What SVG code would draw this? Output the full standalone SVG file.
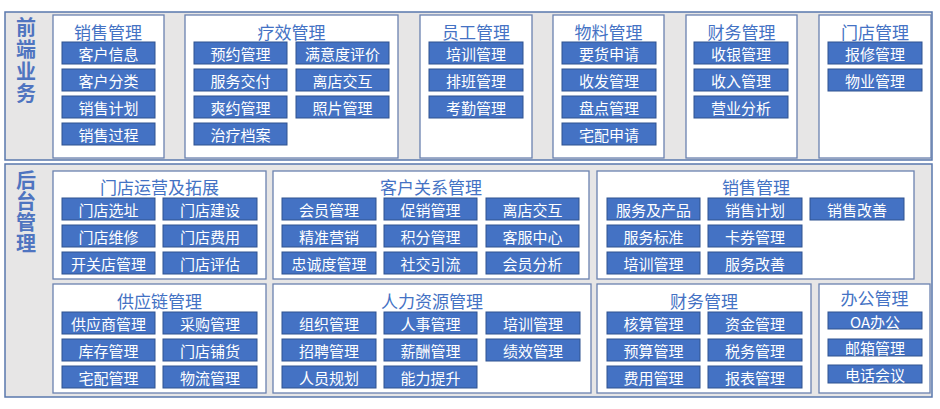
<svg xmlns="http://www.w3.org/2000/svg" width="940" height="409" viewBox="0 0 940 409">
<style>
.panel{fill:#e7e6e6;stroke:#5a78ad;stroke-width:1.5}
.box{fill:#ffffff;stroke:#6a82b0;stroke-width:1.3}
.title{font-family:"Noto Sans CJK SC","Microsoft YaHei",sans-serif;font-size:17px;fill:#4472c4;text-anchor:middle;dominant-baseline:central}
.side{font-family:"Noto Sans CJK SC","Microsoft YaHei",sans-serif;font-size:20px;font-weight:bold;fill:#4f74c0;writing-mode:vertical-rl;text-orientation:upright}
.btn{fill:#4472c4;stroke:#2f528f;stroke-width:1}
.bt{font-family:"Noto Sans CJK SC","Microsoft YaHei",sans-serif;font-size:15px;fill:#ffffff;text-anchor:middle;dominant-baseline:central}
</style>
<rect width="940" height="409" fill="#ffffff"/>
<g id="front">
<rect class="panel" x="5" y="12" width="927" height="148"/>
<text class="side" x="26" y="17" letter-spacing="2">前端业务</text>
</g>
<g id="back">
<rect class="panel" x="5" y="164" width="927" height="233"/>
<text class="side" x="26" y="170" letter-spacing="1">后台管理</text>
</g>
<g id="f-sales">
<rect class="box" x="53" y="15" width="111" height="143"/>
<text class="title" x="108" y="31">销售管理</text>
<rect class="btn" x="62" y="42" width="93" height="22"/><text class="bt" x="108.5" y="53">客户信息</text>
<rect class="btn" x="62" y="69" width="93" height="22"/><text class="bt" x="108.5" y="80">客户分类</text>
<rect class="btn" x="62" y="96" width="93" height="22"/><text class="bt" x="108.5" y="107">销售计划</text>
<rect class="btn" x="62" y="123" width="93" height="22"/><text class="bt" x="108.5" y="134">销售过程</text>
</g>
<g id="f-treat">
<rect class="box" x="185" y="15" width="213" height="143"/>
<text class="title" x="291.5" y="31">疗效管理</text>
<rect class="btn" x="194" y="42" width="93" height="22"/><text class="bt" x="240.5" y="53">预约管理</text>
<rect class="btn" x="296" y="42" width="93" height="22"/><text class="bt" x="342.5" y="53">满意度评价</text>
<rect class="btn" x="194" y="69" width="93" height="22"/><text class="bt" x="240.5" y="80">服务交付</text>
<rect class="btn" x="296" y="69" width="93" height="22"/><text class="bt" x="342.5" y="80">离店交互</text>
<rect class="btn" x="194" y="96" width="93" height="22"/><text class="bt" x="240.5" y="107">爽约管理</text>
<rect class="btn" x="296" y="96" width="93" height="22"/><text class="bt" x="342.5" y="107">照片管理</text>
<rect class="btn" x="194" y="123" width="93" height="22"/><text class="bt" x="240.5" y="134">治疗档案</text>
</g>
<g id="f-staff">
<rect class="box" x="420" y="15" width="112" height="143"/>
<text class="title" x="476" y="31">员工管理</text>
<rect class="btn" x="429" y="42" width="94" height="22"/><text class="bt" x="476" y="53">培训管理</text>
<rect class="btn" x="429" y="69" width="94" height="22"/><text class="bt" x="476" y="80">排班管理</text>
<rect class="btn" x="429" y="96" width="94" height="22"/><text class="bt" x="476" y="107">考勤管理</text>
</g>
<g id="f-material">
<rect class="box" x="553" y="15" width="111" height="143"/>
<text class="title" x="608.5" y="31">物料管理</text>
<rect class="btn" x="562" y="42" width="94" height="22"/><text class="bt" x="609" y="53">要货申请</text>
<rect class="btn" x="562" y="69" width="94" height="22"/><text class="bt" x="609" y="80">收发管理</text>
<rect class="btn" x="562" y="96" width="94" height="22"/><text class="bt" x="609" y="107">盘点管理</text>
<rect class="btn" x="562" y="123" width="94" height="22"/><text class="bt" x="609" y="134">宅配申请</text>
</g>
<g id="f-finance">
<rect class="box" x="686" y="15" width="111" height="143"/>
<text class="title" x="741.5" y="31">财务管理</text>
<rect class="btn" x="694" y="42" width="94" height="22"/><text class="bt" x="741" y="53">收银管理</text>
<rect class="btn" x="694" y="69" width="94" height="22"/><text class="bt" x="741" y="80">收入管理</text>
<rect class="btn" x="694" y="96" width="94" height="22"/><text class="bt" x="741" y="107">营业分析</text>
</g>
<g id="f-store">
<rect class="box" x="819" y="15" width="112" height="143"/>
<text class="title" x="875" y="31">门店管理</text>
<rect class="btn" x="828" y="42" width="94" height="22"/><text class="bt" x="875" y="53">报修管理</text>
<rect class="btn" x="828" y="69" width="94" height="22"/><text class="bt" x="875" y="80">物业管理</text>
</g>
<g id="b-ops">
<rect class="box" x="53" y="171" width="213" height="108"/>
<text class="title" x="159.5" y="186">门店运营及拓展</text>
<rect class="btn" x="62" y="198" width="93" height="22"/><text class="bt" x="108.5" y="209">门店选址</text>
<rect class="btn" x="163" y="198" width="94" height="22"/><text class="bt" x="210" y="209">门店建设</text>
<rect class="btn" x="62" y="225" width="93" height="22"/><text class="bt" x="108.5" y="236">门店维修</text>
<rect class="btn" x="163" y="225" width="94" height="22"/><text class="bt" x="210" y="236">门店费用</text>
<rect class="btn" x="62" y="252" width="93" height="22"/><text class="bt" x="108.5" y="263">开关店管理</text>
<rect class="btn" x="163" y="252" width="94" height="22"/><text class="bt" x="210" y="263">门店评估</text>
</g>
<g id="b-crm">
<rect class="box" x="273" y="171" width="316" height="108"/>
<text class="title" x="431" y="186">客户关系管理</text>
<rect class="btn" x="282" y="198" width="94" height="22"/><text class="bt" x="329" y="209">会员管理</text>
<rect class="btn" x="384" y="198" width="93" height="22"/><text class="bt" x="430.5" y="209">促销管理</text>
<rect class="btn" x="486" y="198" width="93" height="22"/><text class="bt" x="532.5" y="209">离店交互</text>
<rect class="btn" x="282" y="225" width="94" height="22"/><text class="bt" x="329" y="236">精准营销</text>
<rect class="btn" x="384" y="225" width="93" height="22"/><text class="bt" x="430.5" y="236">积分管理</text>
<rect class="btn" x="486" y="225" width="93" height="22"/><text class="bt" x="532.5" y="236">客服中心</text>
<rect class="btn" x="282" y="252" width="94" height="22"/><text class="bt" x="329" y="263">忠诚度管理</text>
<rect class="btn" x="384" y="252" width="93" height="22"/><text class="bt" x="430.5" y="263">社交引流</text>
<rect class="btn" x="486" y="252" width="93" height="22"/><text class="bt" x="532.5" y="263">会员分析</text>
</g>
<g id="b-sales">
<rect class="box" x="597" y="171" width="317" height="108"/>
<text class="title" x="756" y="186">销售管理</text>
<rect class="btn" x="607" y="198" width="93" height="22"/><text class="bt" x="653.5" y="209">服务及产品</text>
<rect class="btn" x="708" y="198" width="94" height="22"/><text class="bt" x="755" y="209">销售计划</text>
<rect class="btn" x="810" y="198" width="94" height="22"/><text class="bt" x="857" y="209">销售改善</text>
<rect class="btn" x="607" y="225" width="93" height="22"/><text class="bt" x="653.5" y="236">服务标准</text>
<rect class="btn" x="708" y="225" width="94" height="22"/><text class="bt" x="755" y="236">卡券管理</text>
<rect class="btn" x="607" y="252" width="93" height="22"/><text class="bt" x="653.5" y="263">培训管理</text>
<rect class="btn" x="708" y="252" width="94" height="22"/><text class="bt" x="755" y="263">服务改善</text>
</g>
<g id="b-supply">
<rect class="box" x="53" y="284" width="213" height="109"/>
<text class="title" x="159.5" y="300">供应链管理</text>
<rect class="btn" x="62" y="312" width="93" height="22"/><text class="bt" x="108.5" y="323">供应商管理</text>
<rect class="btn" x="163" y="312" width="94" height="22"/><text class="bt" x="210" y="323">采购管理</text>
<rect class="btn" x="62" y="339" width="93" height="22"/><text class="bt" x="108.5" y="350">库存管理</text>
<rect class="btn" x="163" y="339" width="94" height="22"/><text class="bt" x="210" y="350">门店铺货</text>
<rect class="btn" x="62" y="366" width="93" height="22"/><text class="bt" x="108.5" y="377">宅配管理</text>
<rect class="btn" x="163" y="366" width="94" height="22"/><text class="bt" x="210" y="377">物流管理</text>
</g>
<g id="b-hr">
<rect class="box" x="273" y="284" width="318" height="109"/>
<text class="title" x="432" y="300">人力资源管理</text>
<rect class="btn" x="282" y="312" width="94" height="22"/><text class="bt" x="329" y="323">组织管理</text>
<rect class="btn" x="384" y="312" width="93" height="22"/><text class="bt" x="430.5" y="323">人事管理</text>
<rect class="btn" x="486" y="312" width="94" height="22"/><text class="bt" x="533" y="323">培训管理</text>
<rect class="btn" x="282" y="339" width="94" height="22"/><text class="bt" x="329" y="350">招聘管理</text>
<rect class="btn" x="384" y="339" width="93" height="22"/><text class="bt" x="430.5" y="350">薪酬管理</text>
<rect class="btn" x="486" y="339" width="94" height="22"/><text class="bt" x="533" y="350">绩效管理</text>
<rect class="btn" x="282" y="366" width="94" height="22"/><text class="bt" x="329" y="377">人员规划</text>
<rect class="btn" x="384" y="366" width="93" height="22"/><text class="bt" x="430.5" y="377">能力提升</text>
</g>
<g id="b-finance">
<rect class="box" x="597" y="284" width="214" height="109"/>
<text class="title" x="704" y="300">财务管理</text>
<rect class="btn" x="607" y="312" width="93" height="22"/><text class="bt" x="653.5" y="323">核算管理</text>
<rect class="btn" x="708" y="312" width="94" height="22"/><text class="bt" x="755" y="323">资金管理</text>
<rect class="btn" x="607" y="339" width="93" height="22"/><text class="bt" x="653.5" y="350">预算管理</text>
<rect class="btn" x="708" y="339" width="94" height="22"/><text class="bt" x="755" y="350">税务管理</text>
<rect class="btn" x="607" y="366" width="93" height="22"/><text class="bt" x="653.5" y="377">费用管理</text>
<rect class="btn" x="708" y="366" width="94" height="22"/><text class="bt" x="755" y="377">报表管理</text>
</g>
<g id="b-office">
<rect class="box" x="819" y="284" width="111" height="109"/>
<text class="title" x="874.5" y="297.5">办公管理</text>
<rect class="btn" x="828" y="312" width="94" height="17"/><text class="bt" x="875" y="321.5">OA办公</text>
<rect class="btn" x="828" y="339" width="94" height="17"/><text class="bt" x="875" y="347.5">邮箱管理</text>
<rect class="btn" x="828" y="365" width="94" height="18"/><text class="bt" x="875" y="374">电话会议</text>
</g>
<g id="connectors"></g>
</svg>
